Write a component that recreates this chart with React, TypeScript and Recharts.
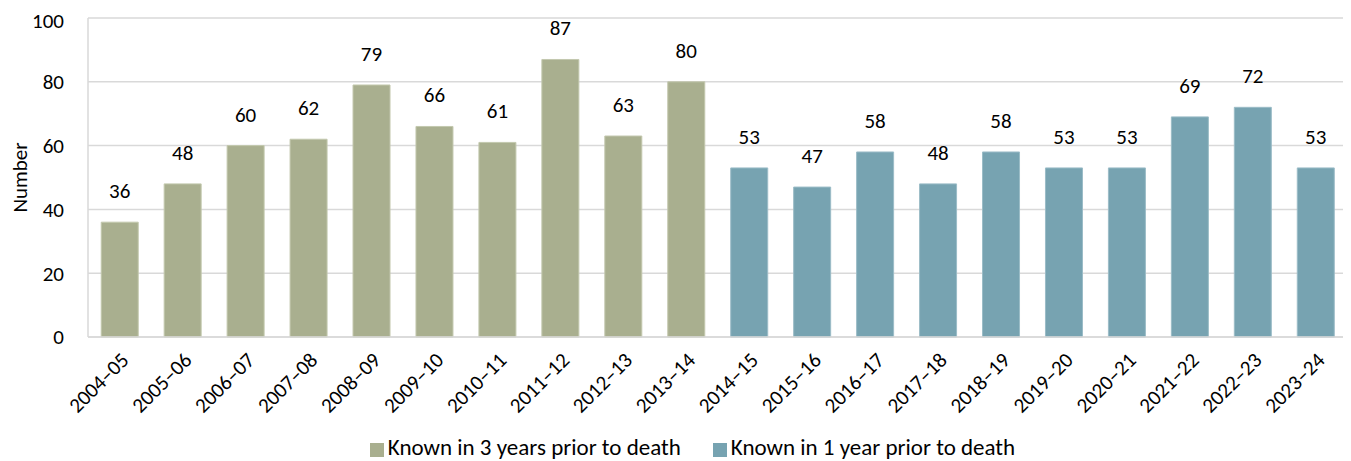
import React from "react";
import {
  BarChart,
  Bar,
  XAxis,
  YAxis,
  CartesianGrid,
  Legend,
  LabelList,
} from "recharts";

const years = [
  "2004–05", "2005–06", "2006–07", "2007–08", "2008–09", "2009–10", "2010–11",
  "2011–12", "2012–13", "2013–14", "2014–15", "2015–16", "2016–17", "2017–18",
  "2018–19", "2019–20", "2020–21", "2021–22", "2022–23", "2023–24",
];
const knownIn3Years = [36, 48, 60, 62, 79, 66, 61, 87, 63, 80];
const knownIn1Year = [53, 47, 58, 48, 58, 53, 53, 69, 72, 53];
const yTicks = [0, 20, 40, 60, 80, 100];

const FONT = "Carlito, Calibri, Lato, sans-serif";
const GREEN = "#A9AF8F";
const BLUE = "#77A3B1";
const FS = 21;

const data = years.map((year, i) => ({
  year,
  three: i < knownIn3Years.length ? knownIn3Years[i] : null,
  one: i >= knownIn3Years.length ? knownIn1Year[i - knownIn3Years.length] : null,
}));

export default function App() {
  return (
    <div style={{ fontFamily: FONT }}>
      <BarChart
        width={1343}
        height={453}
        data={data}
        margin={{ top: 10, right: 4, left: 0, bottom: 0 }}
        barCategoryGap="21%"
      >
        <CartesianGrid vertical={false} stroke="#D9D9D9" strokeWidth={1.5} />
        <XAxis
          dataKey="year"
          interval={0}
          height={96}
          axisLine={{ stroke: "#D9D9D9", strokeWidth: 1.5 }}
          tickLine={false}
          angle={-45}
          textAnchor="end"
          tickMargin={8}
          tick={{ fill: "#000", fontSize: FS, fontFamily: FONT }}
        />
        <YAxis
          domain={[0, 100]}
          ticks={yTicks}
          width={80}
          axisLine={{ stroke: "#D9D9D9", strokeWidth: 1.5 }}
          tickLine={false}
          tickMargin={18}
          tick={{ fill: "#000", fontSize: FS, fontFamily: FONT }}
          label={{
            value: "Number",
            angle: -90,
            position: "insideLeft",
            offset: 12,
            style: { fill: "#000", fontSize: FS, fontFamily: FONT, textAnchor: "middle" },
          }}
        />
        <Legend
          verticalAlign="bottom"
          height={28}
          iconType="square"
          iconSize={14}
          itemSorter={(item: any) => (item.dataKey === "three" ? 0 : 1)}
          wrapperStyle={{ fontSize: 23, fontFamily: FONT, color: "#000", paddingLeft: 20 }}
          formatter={(v, entry: any) => (
            <span
              style={{
                color: "#000",
                marginRight: entry.dataKey === "three" ? 22 : 0,
              }}
            >
              {v}
            </span>
          )}
        />
        <Bar
          dataKey="three"
          name="Known in 3 years prior to death"
          stackId="a"
          fill={GREEN}
          stroke="#C3C8AE"
          isAnimationActive={false}
        >
          <LabelList
            dataKey="three"
            position="top"
            offset={24}
            style={{ fill: "#000", fontSize: FS, fontFamily: FONT }}
          />
        </Bar>
        <Bar
          dataKey="one"
          name="Known in 1 year prior to death"
          stackId="a"
          fill={BLUE}
          stroke="#9BBCC7"
          isAnimationActive={false}
        >
          <LabelList
            dataKey="one"
            position="top"
            offset={24}
            style={{ fill: "#000", fontSize: FS, fontFamily: FONT }}
          />
        </Bar>
      </BarChart>
    </div>
  );
}
